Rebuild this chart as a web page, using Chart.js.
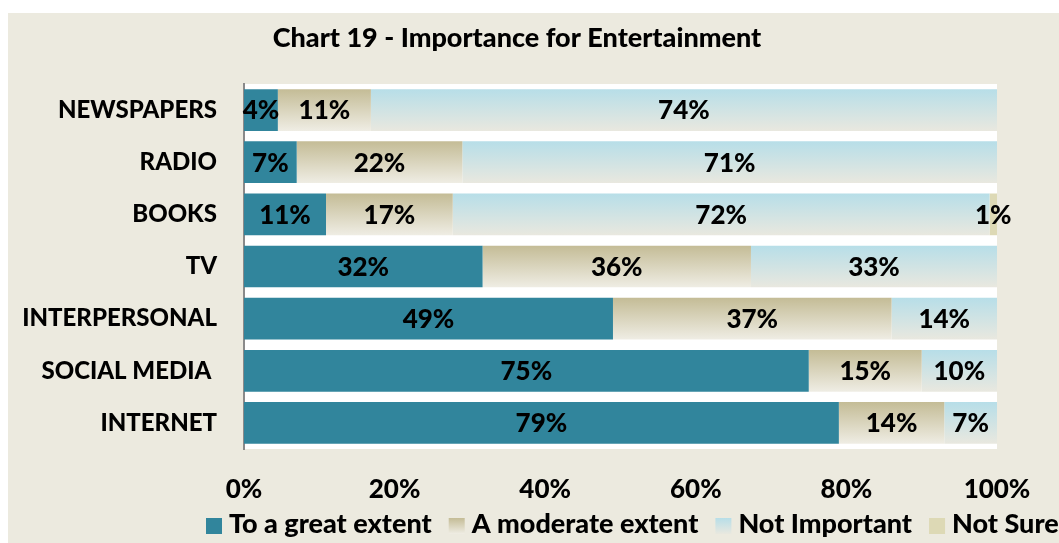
<!DOCTYPE html>
<html>
<head>
<meta charset="utf-8">
<script src="https://cdn.jsdelivr.net/npm/chart.js@4.4.1/dist/chart.umd.min.js"></script>
<style>
  html, body { margin: 0; padding: 0; background: #ffffff; }
  #wrap { width: 1059px; height: 543px; }
</style>
</head>
<body>
<div id="wrap"><canvas id="chart19" width="1059" height="543"></canvas></div>
<script>
// categories and series (row values in %)
const categories = ['NEWSPAPERS', 'RADIO', 'BOOKS', 'TV', 'INTERPERSONAL', 'SOCIAL MEDIA ', 'INTERNET'];
const greatExtent = [4, 7, 11, 32, 49, 75, 79];
const moderateExtent = [11, 22, 17, 36, 37, 15, 14];
const notImportant = [74, 71, 72, 33, 14, 10, 7];
const notSure = [0, 0, 1, 0, 0, 0, 0];
const seriesNames = ['To a great extent', 'A moderate extent', 'Not Important', 'Not Sure'];
const xTicks = [0, 20, 40, 60, 80, 100];

const FONT = 'Lato';
const rawSeries = [greatExtent, moderateExtent, notImportant, notSure];

// excel "100% stacked" : each row is scaled to its own total
const rowTotals = categories.map((c, i) => rawSeries.reduce((s, arr) => s + arr[i], 0));
function share(arr) {
  return arr.map((v, i) => v / rowTotals[i] * 100);
}

function barGradient(top, bottom) {
  return function (ctx) {
    const chart = ctx.chart;
    const ys = chart.scales.y;
    if (!chart.chartArea || !ys) return top;
    const yc = ys.getPixelForValue(ctx.dataIndex);
    const half = chart.chartArea.height / categories.length * 0.8 / 2;
    const g = chart.ctx.createLinearGradient(0, yc - half, 0, yc + half);
    g.addColorStop(0, top);
    g.addColorStop(1, bottom);
    return g;
  };
}

const swatches = [
  ['#31859c', '#31859c'],
  ['#c4bc96', '#efede4'],
  ['#b7dee8', '#e9e8df'],
  ['#ddd9b5', '#ddd9b5']
];

const background = {
  id: 'background',
  beforeDraw(chart) {
    const c = chart.ctx;
    c.save();
    c.fillStyle = '#ffffff';
    c.fillRect(0, 0, chart.width, chart.height);
    c.fillStyle = '#eceadf';
    c.fillRect(8, 13, chart.width - 8, chart.height - 13);
    const a = chart.chartArea;
    c.fillStyle = '#ffffff';
    c.fillRect(a.left, a.top, a.right - a.left, a.bottom - a.top);
    c.restore();
  }
};

const valueLabels = {
  id: 'valueLabels',
  afterDatasetsDraw(chart) {
    const c = chart.ctx;
    c.save();
    c.font = '900 26px ' + FONT;
    c.fillStyle = '#000000';
    c.textAlign = 'center';
    c.textBaseline = 'middle';
    chart.data.datasets.forEach((ds, i) => {
      const meta = chart.getDatasetMeta(i);
      meta.data.forEach((bar, j) => {
        const raw = rawSeries[i][j];
        if (!raw) return;
        c.fillText(raw + '%', (bar.x + bar.base) / 2, bar.y + 1);
      });
    });
    c.restore();
  }
};

const titleAndLegend = {
  id: 'titleAndLegend',
  afterDraw(chart) {
    const c = chart.ctx;
    c.save();
    c.fillStyle = '#000000';
    c.font = '900 27px ' + FONT;
    c.textAlign = 'center';
    c.textBaseline = 'alphabetic';
    c.fillText('Chart 19 - Importance for Entertainment', 517, 47);

    // legend along the bottom
    c.font = '900 27px ' + FONT;
    c.textAlign = 'left';
    let x = 206;
    seriesNames.forEach((name, i) => {
      const g = c.createLinearGradient(0, 518, 0, 534);
      g.addColorStop(0, swatches[i][0]);
      g.addColorStop(1, swatches[i][1]);
      c.fillStyle = g;
      c.fillRect(x, 518, 16, 16);
      c.fillStyle = '#000000';
      c.fillText(name, x + 23, 533);
      x += 23 + c.measureText(name).width + 17;
    });
    c.restore();
  }
};

const datasets = rawSeries.map((arr, i) => ({
  label: seriesNames[i],
  data: share(arr),
  backgroundColor: barGradient(swatches[i][0], swatches[i][1]),
  borderWidth: 0,
  barPercentage: 0.8,
  categoryPercentage: 1.0
}));

const config = {
  type: 'bar',
  data: { labels: categories, datasets: datasets },
  options: {
    indexAxis: 'y',
    responsive: false,
    animation: false,
    layout: { padding: { left: 8, top: 84, right: 62, bottom: 0 } },
    plugins: {
      legend: { display: false },
      title: { display: false },
      tooltip: { enabled: false }
    },
    scales: {
      x: {
        stacked: true,
        min: 0,
        max: 100,
        afterBuildTicks: (axis) => { axis.ticks = xTicks.map(v => ({ value: v })); },
        afterFit: (axis) => { axis.height = 94; },
        grid: { display: false, drawTicks: false },
        border: { display: false },
        ticks: {
          padding: 25,
          color: '#000000',
          font: { family: FONT, size: 26, weight: '900' },
          maxRotation: 0,
          callback: (v) => v + '%'
        }
      },
      y: {
        stacked: true,
        afterFit: (axis) => { axis.width = 236; },
        grid: { display: false, drawTicks: false },
        border: { display: true, color: '#8a8a8a', width: 2 },
        ticks: {
          padding: 27,
          color: '#000000',
          font: { family: FONT, size: 24, weight: '900' }
        }
      }
    }
  },
  plugins: [background, valueLabels, titleAndLegend]
};

const chart19 = new Chart(document.getElementById('chart19'), config);
</script>
</body>
</html>
